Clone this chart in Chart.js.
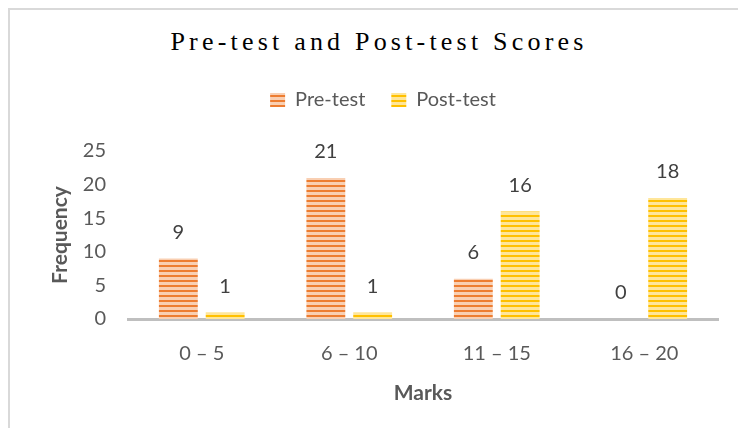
<!DOCTYPE html>
<html>
<head>
<meta charset="utf-8">
<script src="https://cdn.jsdelivr.net/npm/chart.js@4"></script>
<style>
  html, body { margin: 0; padding: 0; background: #fff; }
  #wrap { position: relative; width: 738px; height: 428px; overflow: hidden; }
  #frame {
    position: absolute; left: 8px; top: 8px; width: 760px; height: 460px;
    border: 2px solid #d9d9d9; box-sizing: border-box;
  }
  #title {
    position: absolute; left: 0; top: 27px; width: 758px; text-align: center;
    font-family: "Liberation Serif", "DejaVu Serif", serif; font-size: 26px;
    letter-spacing: 4.2px; color: #000; white-space: nowrap;
  }
  canvas { position: absolute; left: 0; top: 0; }
</style>
</head>
<body>
<div id="wrap">
  <div id="frame"></div>
  <div id="title">Pre-test and Post-test Scores</div>
  <canvas id="chart" width="738" height="428"></canvas>
</div>
<script>
// ===== Data =====
const categories = ['0 – 5', '6 – 10', '11 – 15', '16 – 20'];
const preTest = [9, 21, 6, 0];
const postTest = [1, 1, 16, 18];
const yTicks = [0, 5, 10, 15, 20, 25];

const FONT = 'Lato, "Open Sans", sans-serif';
const GREY_TEXT = '#595959';

// striped fill like the original's pattern bars
function stripes(dark, light) {
  const c = document.createElement('canvas');
  c.width = 4;
  c.height = 5;
  const ctx = c.getContext('2d');
  ctx.fillStyle = light;
  ctx.fillRect(0, 0, 4, 5);
  ctx.fillStyle = dark;
  ctx.fillRect(0, 0, 4, 2);
  return ctx.createPattern(c, 'repeat');
}

const orange = stripes('#ED7D31', '#F9CFB2');
const yellow = stripes('#FFC000', '#FFE699');

// value labels above bars
const valueLabels = {
  id: 'valueLabels',
  afterDatasetsDraw(chart) {
    const ctx = chart.ctx;
    ctx.save();
    ctx.font = '20px ' + FONT;
    ctx.fillStyle = '#404040';
    ctx.textAlign = 'center';
    ctx.textBaseline = 'middle';
    chart.data.datasets.forEach((ds, i) => {
      chart.getDatasetMeta(i).data.forEach((bar, j) => {
        ctx.fillText(String(ds.data[j]), bar.x, bar.y - 26);
      });
    });
    ctx.restore();
  },
};

// extra room between legend and plot
const legendGap = {
  id: 'legendGap',
  beforeInit(chart) {
    const lg = chart.legend;
    if (!lg) return;
    const fit = lg.fit;
    lg.fit = function () {
      fit.call(this);
      this.height += 31;
    };
  },
};

new Chart(document.getElementById('chart'), {
  type: 'bar',
  data: {
    labels: categories,
    datasets: [
      { label: 'Pre-test', data: preTest, backgroundColor: orange },
      { label: 'Post-test', data: postTest, backgroundColor: yellow },
    ],
  },
  options: {
    responsive: false,
    animation: false,
    categoryPercentage: 0.635,
    barPercentage: 0.83,
    layout: { padding: { top: 64, left: 48, right: 20, bottom: 22 } },
    scales: {
      x: {
        afterFit(axis) { axis.height = 87; },
        grid: { display: false, drawTicks: false },
        border: { display: true, color: '#bfbfbf', width: 3 },
        ticks: { color: GREY_TEXT, font: { size: 20, family: FONT }, padding: 23 },
        title: {
          display: true, text: 'Marks', color: GREY_TEXT,
          font: { size: 21, weight: 'bold', family: FONT }, padding: 0,
        },
      },
      y: {
        min: 0,
        max: 25,
        afterBuildTicks(axis) {
          axis.ticks = yTicks.map((v) => ({ value: v }));
        },
        afterFit(axis) { axis.width = 80; },
        grid: { display: false, drawTicks: false },
        border: { display: false },
        ticks: { color: GREY_TEXT, font: { size: 20, family: FONT }, padding: 22 },
        title: {
          display: true, text: 'Frequency', color: GREY_TEXT,
          font: { size: 21, weight: 'bold', family: FONT }, padding: 0,
        },
      },
    },
    plugins: {
      legend: {
        position: 'top',
        labels: {
          boxWidth: 15, boxHeight: 14, padding: 26,
          color: GREY_TEXT, font: { size: 20, family: FONT },
        },
      },
      tooltip: { enabled: false },
    },
  },
  plugins: [valueLabels, legendGap],
});
</script>
</body>
</html>
